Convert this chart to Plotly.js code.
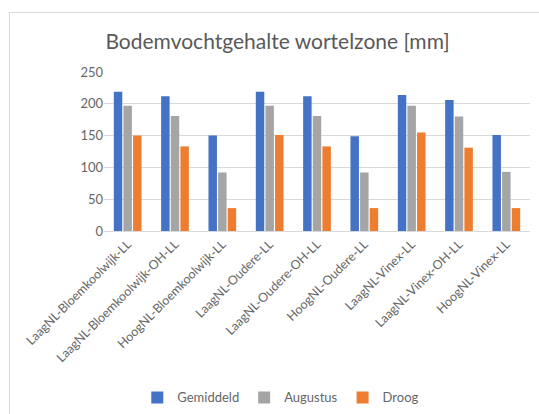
<!DOCTYPE html>
<html>
<head>
<meta charset="utf-8">
<script src="https://cdn.plot.ly/plotly-3.0.1.min.js"></script>
<style>
html,body{margin:0;padding:0;background:#fff;}
#wrap{position:relative;width:539px;height:414px;overflow:hidden;}
#frame{position:absolute;left:9px;top:12px;width:600px;height:500px;border:1px solid #d9d9d9;box-sizing:border-box;}
#chart{position:absolute;left:0;top:0;width:539px;height:414px;}
</style>
</head>
<body>
<div id="wrap"><div id="frame"></div><div id="chart"></div></div>
<script>
const categories = ["LaagNL-Bloemkoolwijk-LL","LaagNL-Bloemkoolwijk-OH-LL","HoogNL-Bloemkoolwijk-LL","LaagNL-Oudere-LL","LaagNL-Oudere-OH-LL","HoogNL-Oudere-LL","LaagNL-Vinex-LL","LaagNL-Vinex-OH-LL","HoogNL-Vinex-LL"];
const gemiddeld = [219, 212, 150, 219, 212, 149, 214, 206, 151];
const augustus = [197, 181, 92, 197, 181, 92, 197, 180, 93];
const droog = [150, 133, 36, 151, 133, 36, 155, 131, 36];
const seriesNames = ["Gemiddeld","Augustus","Droog"];
const colors = ["#4472C4","#A5A5A5","#ED7D31"];
const yTicks = [0,50,100,150,200,250];

const font = {family: "Lato, 'Open Sans', sans-serif", color: "#666666"};
const traces = [gemiddeld, augustus, droog].map((v,i)=>({
  type:"bar", x:categories, y:v, name:seriesNames[i],
  marker:{color:colors[i]}
}));
const layout = {
  width:539, height:414,
  paper_bgcolor:"rgba(0,0,0,0)", plot_bgcolor:"rgba(0,0,0,0)",
  margin:{l:104,r:9,t:72,b:183},
  title:{text:"Bodemvochtgehalte wortelzone [mm]", font:{family:font.family, color:"#595959", size:21}, x:0.515, xanchor:"center", y:0.9, yanchor:"middle"},
  barmode:"group", bargap:0.39, bargroupgap:0.12,
  xaxis:{tickangle:-45, tickfont:Object.assign({size:12.5},font), showline:true, linecolor:"#d9d9d9", linewidth:1, ticks:"", showgrid:false, automargin:false},
  yaxis:{range:[0,250], tickvals:yTicks, tickfont:Object.assign({size:13},font), gridcolor:"#d9d9d9", gridwidth:1, zeroline:false, showline:false, ticks:"", ticklen:0, automargin:false},
  legend:{orientation:"h", x:0.415, xanchor:"center", yref:"container", y:0.04, yanchor:"middle", font:Object.assign({size:13},font)},
  font:font
};
Plotly.newPlot("chart", traces, layout, {displayModeBar:false, staticPlot:true});
</script>
</body>
</html>
